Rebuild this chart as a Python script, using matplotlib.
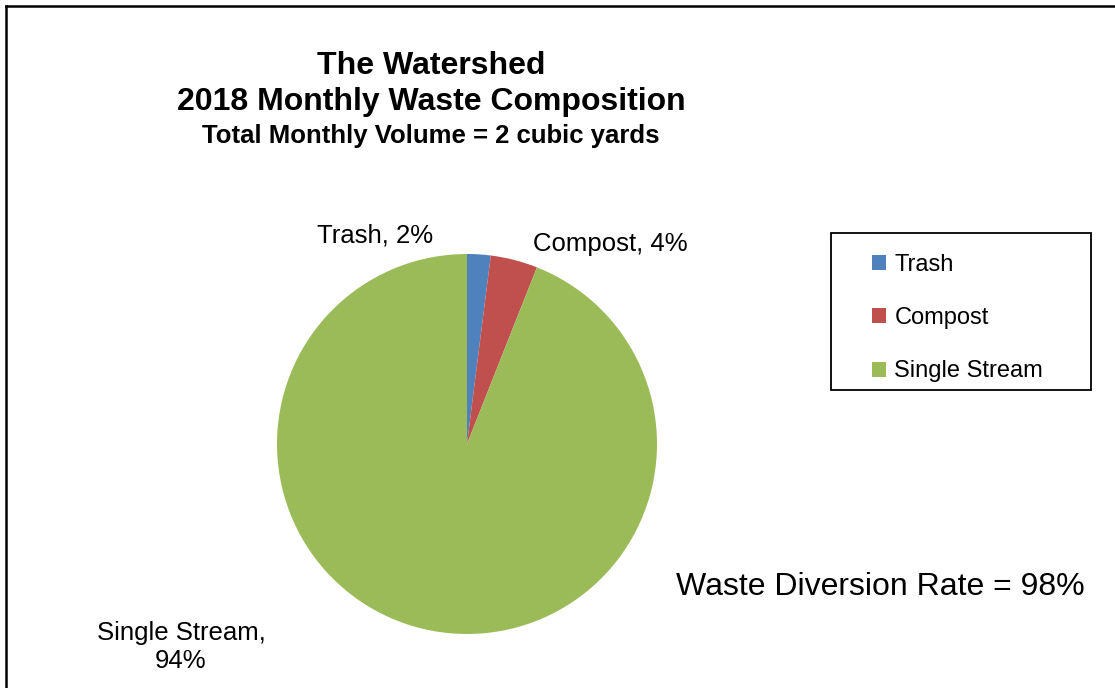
import matplotlib.pyplot as plt
from matplotlib.patches import Patch, Rectangle

categories = ['Trash', 'Compost', 'Single Stream']
shares = [2, 4, 94]
colors = ['#4F81BD', '#C0504D', '#9BBB59']
diversion_rate = 98

plt.rcParams['font.family'] = ['Liberation Sans', 'DejaVu Sans']

W, H = 1115, 688
fig = plt.figure(figsize=(W / 100, H / 100), dpi=100)

# pie centre (467, 444), radius 190 px
cx, cy, r = 467, 444, 190
ax = fig.add_axes([(cx - r) / W, (H - cy - r) / H, 2 * r / W, 2 * r / H])
ax.pie(shares, colors=colors, startangle=90, counterclock=False, radius=1)
ax.set_xlim(-1, 1)
ax.set_ylim(-1, 1)
ax.set_aspect('equal')
ax.axis('off')

def px(x, y):
    return x / W, 1 - y / H

# titles
fig.text(*px(431, 66), 'The Watershed', ha='center', va='center',
         fontsize=23, fontweight='bold')
fig.text(*px(431, 102), '2018 Monthly Waste Composition', ha='center',
         va='center', fontsize=23, fontweight='bold')
fig.text(*px(431, 136), 'Total Monthly Volume = 2 cubic yards', ha='center',
         va='center', fontsize=18.5, fontweight='bold')

# data labels
label_pos = [(375, 235), (610, 244), (181, 647)]
for name, val, (lx, ly) in zip(categories, shares, label_pos):
    txt = f'{name}, {val}%'
    if name == 'Single Stream':
        txt = f'{name},\n{val}%'
    fig.text(*px(lx, ly), txt, ha='center', va='center', fontsize=18.5,
             linespacing=1.25)

fig.text(*px(880, 587), f'Waste Diversion Rate = {diversion_rate}%',
         ha='center', va='center', fontsize=23)

# legend
handles = [Patch(facecolor=c, edgecolor='none', label=n)
           for n, c in zip(categories, colors)]
leg = fig.legend(handles=handles, loc='upper left',
                 bbox_to_anchor=(872 / W, 1 - 254 / H), fontsize=17,
                 frameon=False,
                 handlelength=0.6, handleheight=0.6, handletextpad=0.35,
                 labelspacing=1.32, borderpad=0, borderaxespad=0)
fig.add_artist(Rectangle((831 / W, 1 - 390 / H), 260 / W, 157 / H,
                         fill=False, edgecolor='black', lw=1.3,
                         transform=fig.transFigure))

# outer chart border (left and top visible)
fig.add_artist(plt.Line2D([6 / W, 6 / W], [0, 1 - 6 / H], color='black',
                          lw=1.8, transform=fig.transFigure))
fig.add_artist(plt.Line2D([6 / W, 1], [1 - 6 / H, 1 - 6 / H], color='black',
                          lw=1.8, transform=fig.transFigure))

fig.savefig('out.png', dpi=100)
